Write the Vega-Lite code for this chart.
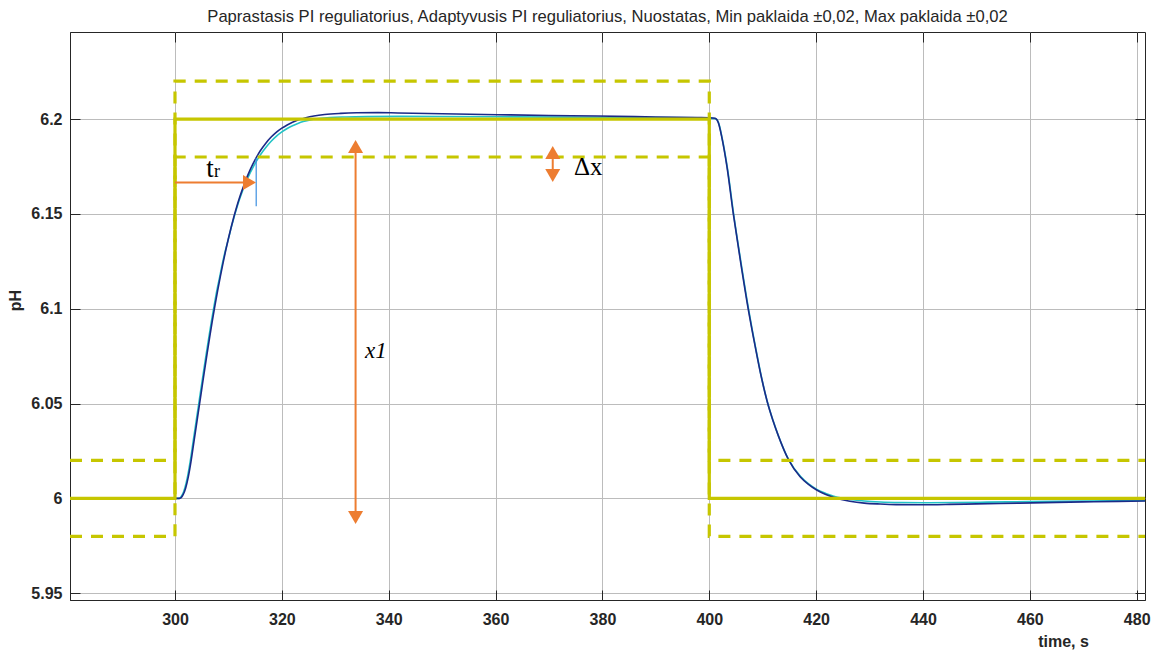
{
  "$schema": "https://vega.github.io/schema/vega-lite/v6.json",
  "width": 1075,
  "height": 568,
  "autosize": "none",
  "padding": {"left": 70, "top": 32, "right": 7, "bottom": 50},
  "background": "white",
  "title": {"text": "Paprastasis PI reguliatorius, Adaptyvusis PI reguliatorius, Nuostatas, Min paklaida ±0,02, Max paklaida ±0,02", "font": "Liberation Sans", "fontSize": 16.6, "fontWeight": "normal", "color": "#262626", "anchor": "middle", "offset": 6},
  "config": {"view": {"stroke": "#262626", "strokeWidth": 1}, "font": "Liberation Sans"},
  "datasets": {
    "resp": [
      {"s": "Adaptyvusis", "t": 280.35, "v": 6.0}, {"s": "Adaptyvusis", "t": 300, "v": 6.0}, {"s": "Adaptyvusis", "t": 300.75, "v": 6.0}, {"s": "Adaptyvusis", "t": 301.35, "v": 6.0018}, {"s": "Adaptyvusis", "t": 301.85, "v": 6.0055}, {"s": "Adaptyvusis", "t": 302.35, "v": 6.0115}, {"s": "Adaptyvusis", "t": 302.85, "v": 6.0195}, {"s": "Adaptyvusis", "t": 303.35, "v": 6.029}, {"s": "Adaptyvusis", "t": 303.85, "v": 6.0385}, {"s": "Adaptyvusis", "t": 304.35, "v": 6.048}, {"s": "Adaptyvusis", "t": 304.85, "v": 6.0575}, {"s": "Adaptyvusis", "t": 305.35, "v": 6.067}, {"s": "Adaptyvusis", "t": 305.85, "v": 6.0762}, {"s": "Adaptyvusis", "t": 306.35, "v": 6.0852}, {"s": "Adaptyvusis", "t": 306.85, "v": 6.0938}, {"s": "Adaptyvusis", "t": 307.35, "v": 6.102}, {"s": "Adaptyvusis", "t": 307.85, "v": 6.1098}, {"s": "Adaptyvusis", "t": 308.4, "v": 6.1172}, {"s": "Adaptyvusis", "t": 308.9, "v": 6.1242}, {"s": "Adaptyvusis", "t": 309.45, "v": 6.1308}, {"s": "Adaptyvusis", "t": 310, "v": 6.1368}, {"s": "Adaptyvusis", "t": 310.5, "v": 6.1425}, {"s": "Adaptyvusis", "t": 311, "v": 6.1477}, {"s": "Adaptyvusis", "t": 311.5, "v": 6.1525}, {"s": "Adaptyvusis", "t": 312, "v": 6.157}, {"s": "Adaptyvusis", "t": 312.5, "v": 6.161}, {"s": "Adaptyvusis", "t": 313, "v": 6.1647}, {"s": "Adaptyvusis", "t": 313.5, "v": 6.1681}, {"s": "Adaptyvusis", "t": 314, "v": 6.1712}, {"s": "Adaptyvusis", "t": 314.5, "v": 6.174}, {"s": "Adaptyvusis", "t": 315, "v": 6.1766}, {"s": "Adaptyvusis", "t": 315.5, "v": 6.179}, {"s": "Adaptyvusis", "t": 316, "v": 6.1812}, {"s": "Adaptyvusis", "t": 317, "v": 6.185}, {"s": "Adaptyvusis", "t": 318, "v": 6.1883}, {"s": "Adaptyvusis", "t": 319, "v": 6.191}, {"s": "Adaptyvusis", "t": 320, "v": 6.1932}, {"s": "Adaptyvusis", "t": 321, "v": 6.195}, {"s": "Adaptyvusis", "t": 322, "v": 6.1965}, {"s": "Adaptyvusis", "t": 323, "v": 6.1977}, {"s": "Adaptyvusis", "t": 324, "v": 6.1987}, {"s": "Adaptyvusis", "t": 325.5, "v": 6.1997}, {"s": "Adaptyvusis", "t": 327, "v": 6.2003}, {"s": "Adaptyvusis", "t": 329, "v": 6.2008}, {"s": "Adaptyvusis", "t": 332, "v": 6.2011}, {"s": "Adaptyvusis", "t": 336, "v": 6.2013}, {"s": "Adaptyvusis", "t": 342, "v": 6.2014}, {"s": "Adaptyvusis", "t": 360, "v": 6.2012}, {"s": "Adaptyvusis", "t": 380, "v": 6.2009}, {"s": "Adaptyvusis", "t": 398, "v": 6.2006}, {"s": "Adaptyvusis", "t": 400, "v": 6.2005}, {"s": "Adaptyvusis", "t": 401.2, "v": 6.2002}, {"s": "Adaptyvusis", "t": 401.8, "v": 6.1975}, {"s": "Adaptyvusis", "t": 402.4, "v": 6.19}, {"s": "Adaptyvusis", "t": 403.4, "v": 6.174}, {"s": "Adaptyvusis", "t": 404.6, "v": 6.149}, {"s": "Adaptyvusis", "t": 405.9, "v": 6.125}, {"s": "Adaptyvusis", "t": 407.4, "v": 6.099}, {"s": "Adaptyvusis", "t": 408.7, "v": 6.079}, {"s": "Adaptyvusis", "t": 409.8, "v": 6.0635}, {"s": "Adaptyvusis", "t": 410.9, "v": 6.0505}, {"s": "Adaptyvusis", "t": 412, "v": 6.0405}, {"s": "Adaptyvusis", "t": 413, "v": 6.0325}, {"s": "Adaptyvusis", "t": 414.9, "v": 6.0202}, {"s": "Adaptyvusis", "t": 417.1, "v": 6.0115}, {"s": "Adaptyvusis", "t": 418.6, "v": 6.0076}, {"s": "Adaptyvusis", "t": 420.2, "v": 6.0046}, {"s": "Adaptyvusis", "t": 421.8, "v": 6.0026}, {"s": "Adaptyvusis", "t": 423.3, "v": 6.0011}, {"s": "Adaptyvusis", "t": 424.8, "v": 6.0001}, {"s": "Adaptyvusis", "t": 426.4, "v": 5.9994}, {"s": "Adaptyvusis", "t": 429, "v": 5.9986}, {"s": "Adaptyvusis", "t": 432, "v": 5.9981}, {"s": "Adaptyvusis", "t": 436, "v": 5.9978}, {"s": "Adaptyvusis", "t": 440, "v": 5.9977}, {"s": "Adaptyvusis", "t": 446, "v": 5.9978}, {"s": "Adaptyvusis", "t": 452, "v": 5.998}, {"s": "Adaptyvusis", "t": 460, "v": 5.9983}, {"s": "Adaptyvusis", "t": 470, "v": 5.9986}, {"s": "Adaptyvusis", "t": 481.55, "v": 5.9989},
      {"s": "Paprastasis", "t": 280.35, "v": 6.0}, {"s": "Paprastasis", "t": 300, "v": 6.0}, {"s": "Paprastasis", "t": 300.9, "v": 6.0}, {"s": "Paprastasis", "t": 301.5, "v": 6.0018}, {"s": "Paprastasis", "t": 302, "v": 6.0055}, {"s": "Paprastasis", "t": 302.5, "v": 6.0115}, {"s": "Paprastasis", "t": 303, "v": 6.0195}, {"s": "Paprastasis", "t": 303.5, "v": 6.029}, {"s": "Paprastasis", "t": 304, "v": 6.0385}, {"s": "Paprastasis", "t": 304.5, "v": 6.048}, {"s": "Paprastasis", "t": 305, "v": 6.0575}, {"s": "Paprastasis", "t": 305.5, "v": 6.067}, {"s": "Paprastasis", "t": 306, "v": 6.0762}, {"s": "Paprastasis", "t": 306.5, "v": 6.0852}, {"s": "Paprastasis", "t": 307, "v": 6.0938}, {"s": "Paprastasis", "t": 307.5, "v": 6.102}, {"s": "Paprastasis", "t": 308, "v": 6.1098}, {"s": "Paprastasis", "t": 308.5, "v": 6.1172}, {"s": "Paprastasis", "t": 309, "v": 6.1242}, {"s": "Paprastasis", "t": 309.5, "v": 6.1308}, {"s": "Paprastasis", "t": 310, "v": 6.137}, {"s": "Paprastasis", "t": 310.5, "v": 6.1428}, {"s": "Paprastasis", "t": 311, "v": 6.1482}, {"s": "Paprastasis", "t": 311.5, "v": 6.1532}, {"s": "Paprastasis", "t": 312, "v": 6.1578}, {"s": "Paprastasis", "t": 312.5, "v": 6.162}, {"s": "Paprastasis", "t": 313, "v": 6.1659}, {"s": "Paprastasis", "t": 313.5, "v": 6.1695}, {"s": "Paprastasis", "t": 314, "v": 6.1728}, {"s": "Paprastasis", "t": 314.5, "v": 6.1758}, {"s": "Paprastasis", "t": 315, "v": 6.1786}, {"s": "Paprastasis", "t": 315.5, "v": 6.1811}, {"s": "Paprastasis", "t": 316, "v": 6.1834}, {"s": "Paprastasis", "t": 317, "v": 6.1873}, {"s": "Paprastasis", "t": 318, "v": 6.1905}, {"s": "Paprastasis", "t": 319, "v": 6.1931}, {"s": "Paprastasis", "t": 320, "v": 6.1952}, {"s": "Paprastasis", "t": 321, "v": 6.1969}, {"s": "Paprastasis", "t": 322, "v": 6.1983}, {"s": "Paprastasis", "t": 323, "v": 6.1995}, {"s": "Paprastasis", "t": 324.5, "v": 6.2007}, {"s": "Paprastasis", "t": 326, "v": 6.2016}, {"s": "Paprastasis", "t": 328, "v": 6.2024}, {"s": "Paprastasis", "t": 331, "v": 6.203}, {"s": "Paprastasis", "t": 334, "v": 6.2033}, {"s": "Paprastasis", "t": 338, "v": 6.2034}, {"s": "Paprastasis", "t": 341.7, "v": 6.2032}, {"s": "Paprastasis", "t": 350, "v": 6.2028}, {"s": "Paprastasis", "t": 360.4, "v": 6.2023}, {"s": "Paprastasis", "t": 370, "v": 6.2019}, {"s": "Paprastasis", "t": 379.1, "v": 6.2016}, {"s": "Paprastasis", "t": 390, "v": 6.2011}, {"s": "Paprastasis", "t": 397.8, "v": 6.2008}, {"s": "Paprastasis", "t": 400, "v": 6.2007}, {"s": "Paprastasis", "t": 401.1, "v": 6.2004}, {"s": "Paprastasis", "t": 401.7, "v": 6.198}, {"s": "Paprastasis", "t": 402.3, "v": 6.191}, {"s": "Paprastasis", "t": 403.3, "v": 6.175}, {"s": "Paprastasis", "t": 404.5, "v": 6.15}, {"s": "Paprastasis", "t": 405.8, "v": 6.1258}, {"s": "Paprastasis", "t": 407.3, "v": 6.0997}, {"s": "Paprastasis", "t": 408.6, "v": 6.08}, {"s": "Paprastasis", "t": 409.7, "v": 6.0645}, {"s": "Paprastasis", "t": 410.8, "v": 6.0515}, {"s": "Paprastasis", "t": 411.9, "v": 6.0412}, {"s": "Paprastasis", "t": 412.9, "v": 6.0332}, {"s": "Paprastasis", "t": 414.8, "v": 6.0205}, {"s": "Paprastasis", "t": 417, "v": 6.0114}, {"s": "Paprastasis", "t": 418.5, "v": 6.0075}, {"s": "Paprastasis", "t": 420.1, "v": 6.0044}, {"s": "Paprastasis", "t": 421.7, "v": 6.0022}, {"s": "Paprastasis", "t": 423.2, "v": 6.0006}, {"s": "Paprastasis", "t": 424.7, "v": 5.9994}, {"s": "Paprastasis", "t": 426.3, "v": 5.9985}, {"s": "Paprastasis", "t": 429, "v": 5.9975}, {"s": "Paprastasis", "t": 432, "v": 5.997}, {"s": "Paprastasis", "t": 435, "v": 5.9967}, {"s": "Paprastasis", "t": 439.4, "v": 5.9966}, {"s": "Paprastasis", "t": 445, "v": 5.9968}, {"s": "Paprastasis", "t": 450, "v": 5.9971}, {"s": "Paprastasis", "t": 458.1, "v": 5.9975}, {"s": "Paprastasis", "t": 465, "v": 5.9979}, {"s": "Paprastasis", "t": 472, "v": 5.9982}, {"s": "Paprastasis", "t": 481.55, "v": 5.9986}
    ],
    "sp": [
      {"i": 0, "t": 280.35, "v": 6.0}, {"i": 1, "t": 300, "v": 6.0}, {"i": 2, "t": 300, "v": 6.2}, {"i": 3, "t": 400, "v": 6.2}, {"i": 4, "t": 400, "v": 6.0}, {"i": 5, "t": 481.55, "v": 6.0}
    ],
    "bd": [
      {"b": "max", "i": 0, "t": 280.35, "v": 6.02}, {"b": "max", "i": 1, "t": 300, "v": 6.02}, {"b": "max", "i": 2, "t": 300, "v": 6.22}, {"b": "max", "i": 3, "t": 400, "v": 6.22}, {"b": "max", "i": 4, "t": 400, "v": 6.02}, {"b": "max", "i": 5, "t": 481.55, "v": 6.02},
      {"b": "min", "i": 0, "t": 280.35, "v": 5.98}, {"b": "min", "i": 1, "t": 300, "v": 5.98}, {"b": "min", "i": 2, "t": 300, "v": 6.18}, {"b": "min", "i": 3, "t": 400, "v": 6.18}, {"b": "min", "i": 4, "t": 400, "v": 5.98}, {"b": "min", "i": 5, "t": 481.55, "v": 5.98}
    ],
    "hstem": [{"t": 300, "t2": 313.3, "v": 6.1665}],
    "vstem": [{"k": "x1", "t": 333.8, "v": 6.1837, "v2": 5.9928}, {"k": "dx", "t": 370.7, "v": 6.1789, "v2": 6.1736}],
    "tick": [{"t": 315.2, "v": 6.1795, "v2": 6.154}],
    "heads": [
      {"dir": "right", "t": 313.94, "v": 6.1665},
      {"dir": "up", "t": 333.8, "v": 6.1855},
      {"dir": "down", "t": 333.8, "v": 5.9899},
      {"dir": "up", "t": 370.7, "v": 6.1823},
      {"dir": "down", "t": 370.7, "v": 6.1702}
    ]
  },
  "resolve": {"axis": {"x": "independent", "y": "independent"}},
  "layer": [
    {
      "data": {"name": "resp"},
      "mark": {"type": "line", "strokeWidth": 1.6, "clip": true, "interpolate": "monotone"},
      "encoding": {
        "x": {"field": "t", "type": "quantitative", "scale": {"domain": [280.35, 481.55], "nice": false, "zero": false},
          "axis": {"orient": "bottom", "values": [300, 320, 340, 360, 380, 400, 420, 440, 460, 480], "format": "d", "grid": true, "gridColor": "#bcbcbc", "gridWidth": 1, "tickSize": -10, "tickColor": "#262626", "tickWidth": 1, "domainColor": "#262626", "labelFont": "Liberation Sans", "labelFontSize": 16, "labelFontWeight": "bold", "labelColor": "#262626", "labelPadding": 21, "labelFlush": false, "labelOverlap": false, "labelBound": false, "title": "time, s", "titleFont": "Liberation Sans", "titleFontSize": 16, "titleFontWeight": "bold", "titleColor": "#262626", "titleX": 993, "titleY": 46, "titleAlign": "center", "titleBaseline": "alphabetic"}},
        "y": {"field": "v", "type": "quantitative", "scale": {"domain": [5.9464, 6.2459], "nice": false, "zero": false},
          "axis": {"orient": "left", "values": [5.95, 6, 6.05, 6.1, 6.15, 6.2], "format": "~g", "grid": true, "gridColor": "#bcbcbc", "gridWidth": 1, "tickSize": -10, "tickColor": "#262626", "tickWidth": 1, "domainColor": "#262626", "labelFont": "Liberation Sans", "labelFontSize": 16, "labelFontWeight": "bold", "labelColor": "#262626", "labelPadding": 18, "labelFlush": false, "labelOverlap": false, "labelBound": false, "title": "pH", "titleFont": "Liberation Sans", "titleFontSize": 16, "titleFontWeight": "bold", "titleColor": "#262626", "titleX": -55, "titleY": 268, "titleAngle": -90, "titleAlign": "center", "titleBaseline": "middle"}},
        "color": {"field": "s", "type": "nominal", "scale": {"domain": ["Adaptyvusis", "Paprastasis"], "range": ["#22c3c6", "#1b2a88"]}, "legend": null}
      }
    },
    {
      "data": {"name": "sp"},
      "mark": {"type": "line", "strokeWidth": 3.2, "color": "#c6c600", "clip": true},
      "encoding": {
        "x": {"field": "t", "type": "quantitative", "axis": {"orient": "top", "values": [300, 320, 340, 360, 380, 400, 420, 440, 460, 480], "grid": false, "labels": false, "domain": false, "tickSize": -10, "tickColor": "#262626", "title": null}},
        "y": {"field": "v", "type": "quantitative", "axis": {"orient": "right", "values": [5.95, 6, 6.05, 6.1, 6.15, 6.2], "grid": false, "labels": false, "domain": false, "tickSize": -10, "tickColor": "#262626", "title": null}},
        "order": {"field": "i", "type": "quantitative"}
      }
    },
    {
      "data": {"name": "bd"},
      "mark": {"type": "line", "strokeWidth": 3.2, "color": "#c6c600", "strokeDash": [12, 9], "clip": true},
      "encoding": {
        "x": {"field": "t", "type": "quantitative", "axis": null},
        "y": {"field": "v", "type": "quantitative", "axis": null},
        "detail": {"field": "b"},
        "order": {"field": "i", "type": "quantitative"}
      }
    },
    {
      "data": {"name": "hstem"},
      "mark": {"type": "rule", "color": "#ed7d31", "strokeWidth": 2},
      "encoding": {
        "x": {"field": "t", "type": "quantitative", "axis": null},
        "x2": {"field": "t2"},
        "y": {"field": "v", "type": "quantitative", "axis": null}
      }
    },
    {
      "data": {"name": "vstem"},
      "mark": {"type": "rule", "color": "#ed7d31", "strokeWidth": 2},
      "encoding": {
        "x": {"field": "t", "type": "quantitative", "axis": null},
        "y": {"field": "v", "type": "quantitative", "axis": null},
        "y2": {"field": "v2"}
      }
    },
    {
      "data": {"name": "tick"},
      "mark": {"type": "rule", "color": "#3d8fe0", "strokeWidth": 1.2},
      "encoding": {
        "x": {"field": "t", "type": "quantitative", "axis": null},
        "y": {"field": "v", "type": "quantitative", "axis": null},
        "y2": {"field": "v2"}
      }
    },
    {
      "data": {"name": "heads"},
      "mark": {"type": "point", "filled": true, "color": "#ed7d31", "opacity": 1, "size": 225, "strokeWidth": 0},
      "encoding": {
        "x": {"field": "t", "type": "quantitative", "axis": null},
        "y": {"field": "v", "type": "quantitative", "axis": null},
        "shape": {"field": "dir", "type": "nominal", "scale": {"domain": ["right", "up", "down"], "range": ["triangle-right", "triangle-up", "triangle-down"]}, "legend": null}
      }
    },
    {
      "data": {"values": [{"txt": "t", "t": 306.55, "v": 6.1694}]},
      "mark": {"type": "text", "font": "Liberation Serif", "fontSize": 27, "align": "center", "baseline": "alphabetic", "color": "#000000"},
      "encoding": {"x": {"field": "t", "type": "quantitative", "axis": null}, "y": {"field": "v", "type": "quantitative", "axis": null}, "text": {"field": "txt"}}
    },
    {
      "data": {"values": [{"txt": "r", "t": 307.3, "v": 6.1697}]},
      "mark": {"type": "text", "font": "Liberation Serif", "fontSize": 18, "align": "left", "baseline": "alphabetic", "color": "#000000"},
      "encoding": {"x": {"field": "t", "type": "quantitative", "axis": null}, "y": {"field": "v", "type": "quantitative", "axis": null}, "text": {"field": "txt"}}
    },
    {
      "data": {"values": [{"txt": "x1", "t": 337.6, "v": 6.074}]},
      "mark": {"type": "text", "font": "Liberation Serif", "fontSize": 23, "fontStyle": "italic", "align": "center", "baseline": "alphabetic", "color": "#000000"},
      "encoding": {"x": {"field": "t", "type": "quantitative", "axis": null}, "y": {"field": "v", "type": "quantitative", "axis": null}, "text": {"field": "txt"}}
    },
    {
      "data": {"values": [{"txt": "Δx", "t": 374.66, "v": 6.1705}]},
      "mark": {"type": "text", "font": "Liberation Serif", "fontSize": 25, "align": "left", "baseline": "alphabetic", "color": "#000000"},
      "encoding": {"x": {"field": "t", "type": "quantitative", "axis": null}, "y": {"field": "v", "type": "quantitative", "axis": null}, "text": {"field": "txt"}}
    }
  ]
}
